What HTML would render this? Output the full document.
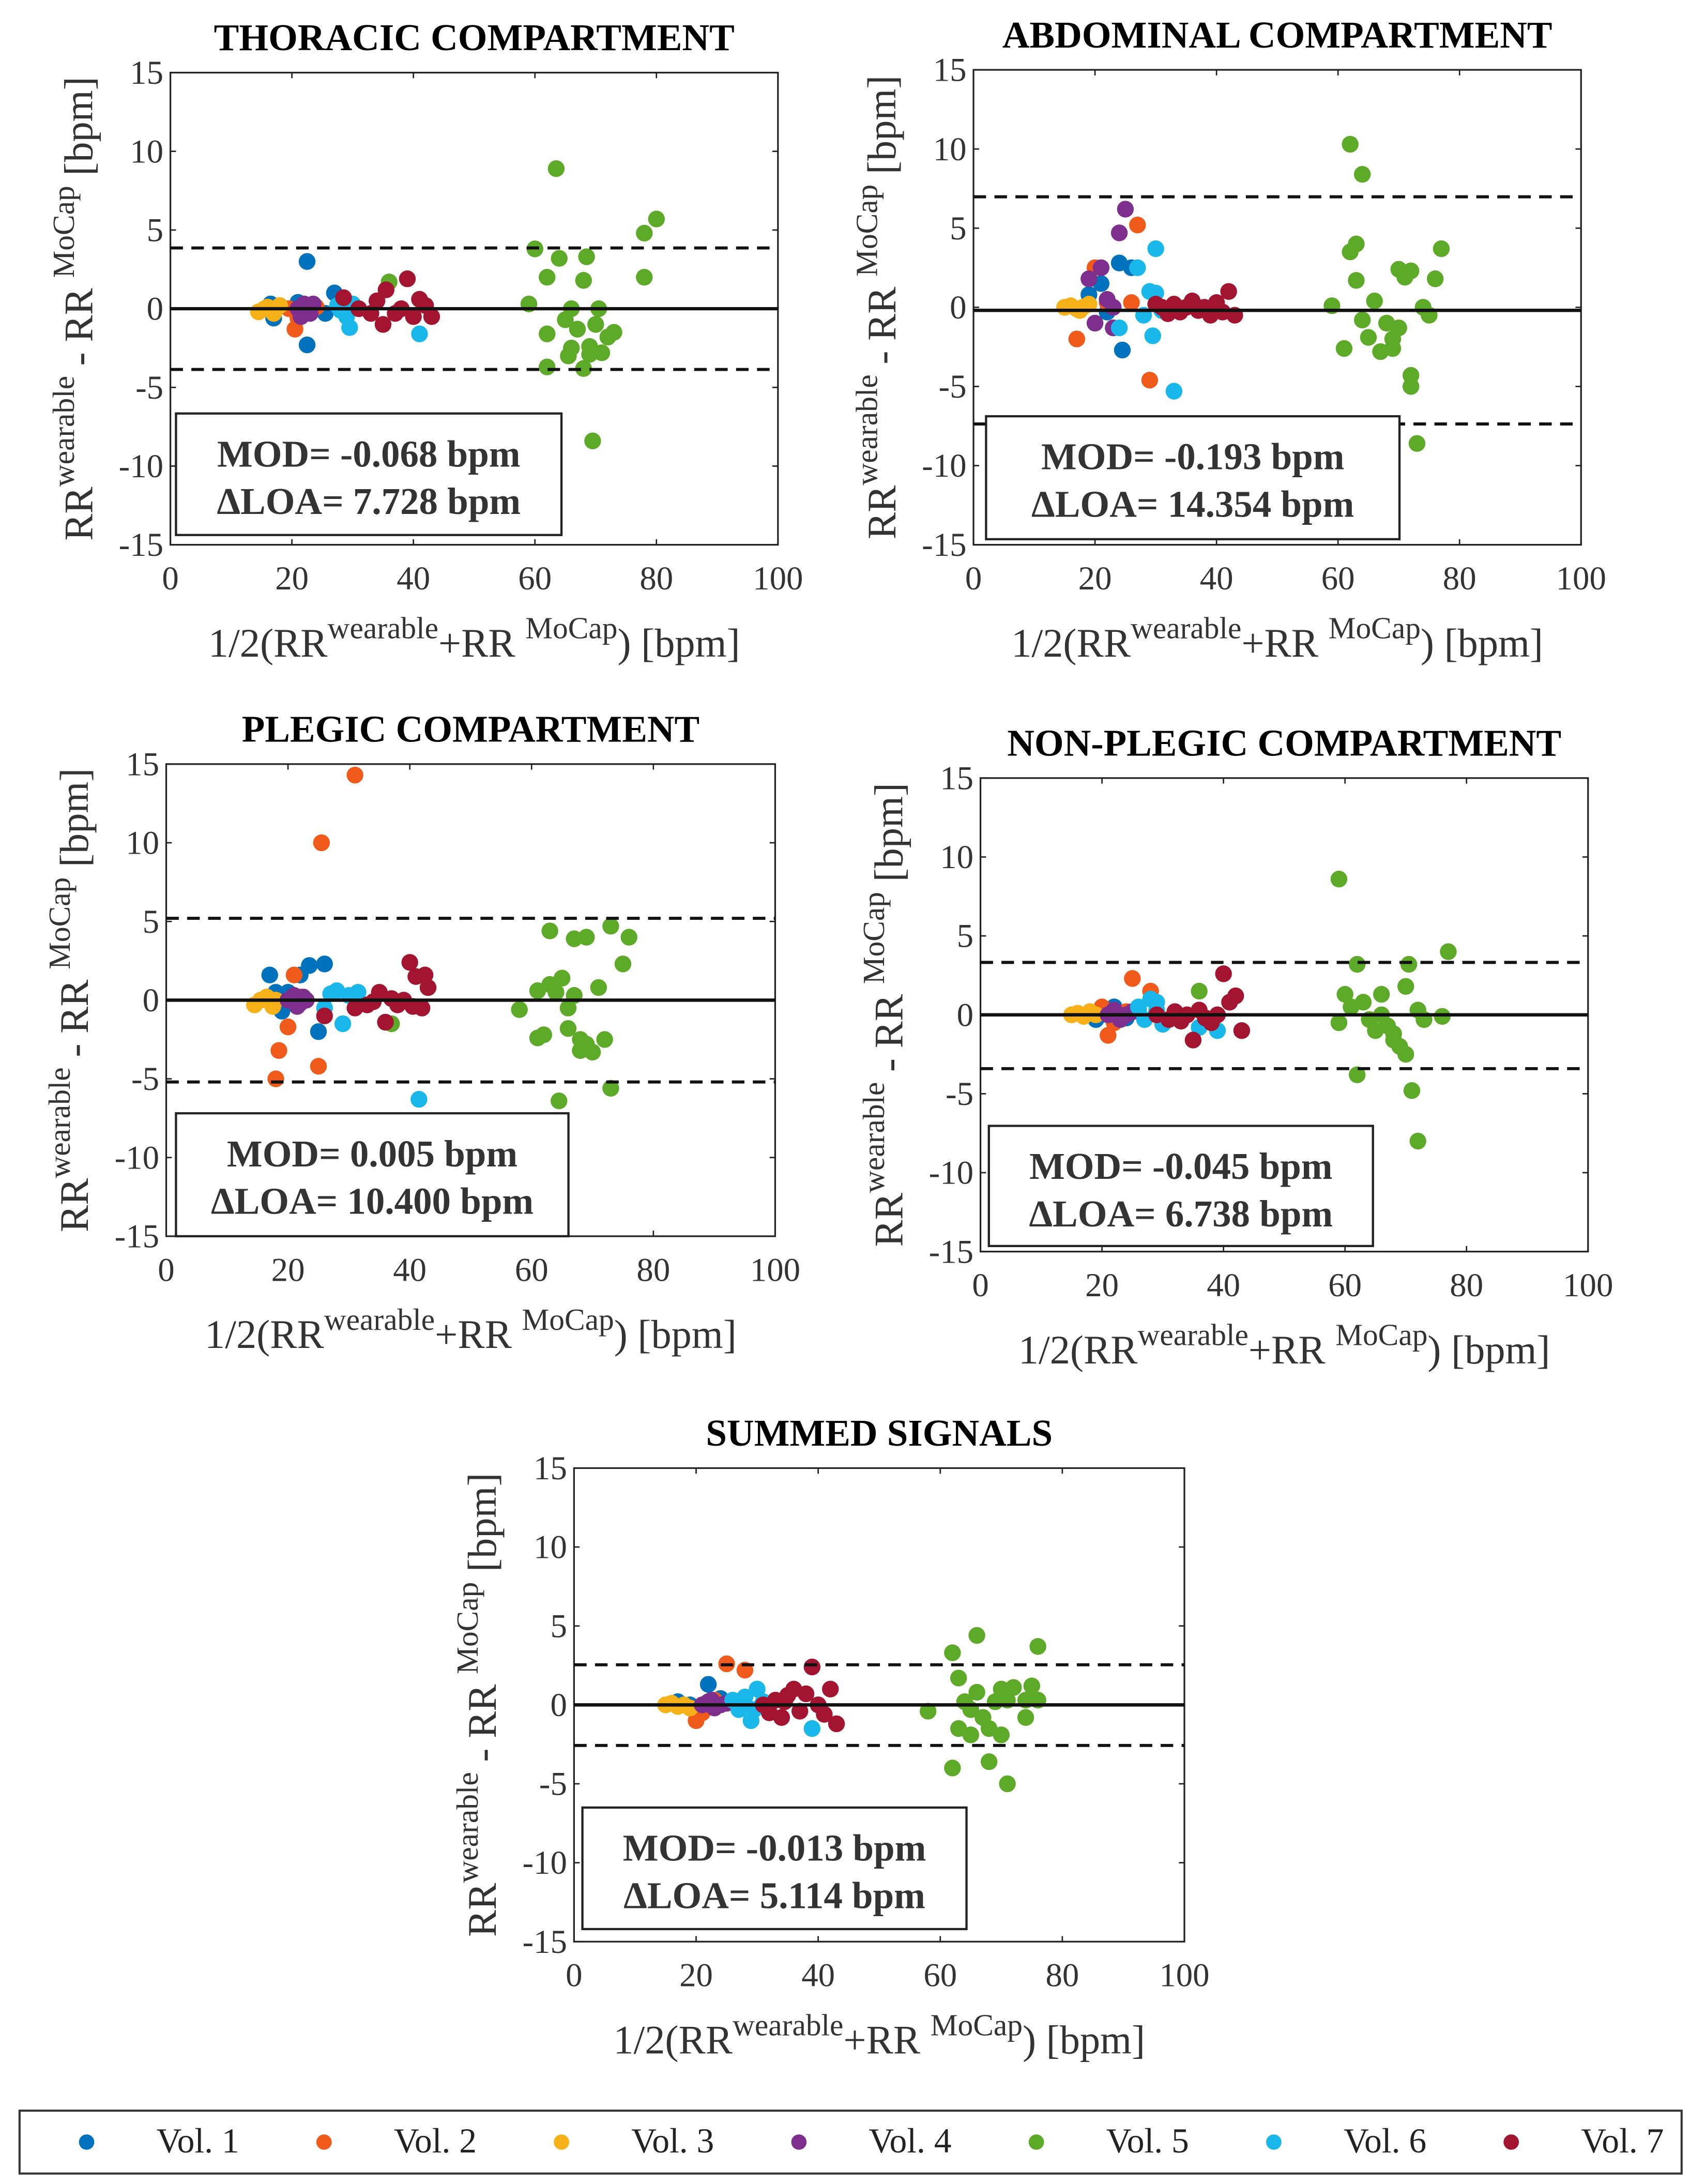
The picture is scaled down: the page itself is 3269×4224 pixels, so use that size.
<!DOCTYPE html>
<html><head><meta charset="utf-8">
<style>
html,body{margin:0;padding:0;background:#fff;}
svg{display:block;font-family:"Liberation Serif",serif;}
</style></head>
<body>
<svg id="fig" width="3269" height="4224" viewBox="0 0 1210 1563.5" xmlns="http://www.w3.org/2000/svg"></svg>
<script>
const colors=["#0072BD","#F05A1A","#F5B117","#7E2F8E","#5DAA28","#1AB8EA","#A2142F"];
const volNames=["Vol. 1","Vol. 2","Vol. 3","Vol. 4","Vol. 5","Vol. 6","Vol. 7"];
const xTicks=[0,20,40,60,80,100];
const yTicks=[15,10,5,0,-5,-10,-15];
const titles=["THORACIC COMPARTMENT","ABDOMINAL COMPARTMENT","PLEGIC COMPARTMENT","NON-PLEGIC COMPARTMENT","SUMMED SIGNALS"];
const mods=["MOD= -0.068 bpm","MOD= -0.193 bpm","MOD= 0.005 bpm","MOD= -0.045 bpm","MOD= -0.013 bpm"];
const loas=["\u0394LOA= 7.728 bpm","\u0394LOA= 14.354 bpm","\u0394LOA= 10.400 bpm","\u0394LOA= 6.738 bpm","\u0394LOA= 5.114 bpm"];
const upperLoa=[3.86,6.98,5.2,3.32,2.54];
const lowerLoa=[-3.86,-7.37,-5.2,-3.41,-2.57];
const zeroLine=[0,-0.193,0,0,0];
const thoracic=[
[[16.5,0.3],[17,-0.6],[22.5,3],[22.5,-2.3],[27,1],[25.5,-0.3],[21,0.4]],
[[20.5,-1.3],[24,0.1],[21,-0.6],[19.5,0]],
[[14.5,-0.2],[15.5,0],[16,0.1],[17,-0.3],[18,0.2],[16.5,0]],
[[21,0],[22,0.3],[23,-0.3],[22.5,0],[21.5,-0.5],[23.5,0.3]],
[[36,1.7],[59,0.3],[60,3.8],[62,2],[62,-1.6],[62,-3.7],[64,3.2],[65,-0.7],[66,0],[66,-2.5],[65.5,-3],[67,-1.3],[68,1.8],[68,-3.8],[68.5,3.3],[69,-2.9],[70,-1],[71,-2.8],[70.5,0],[72,-1.8],[73,-1.5],[69.5,-8.4],[63.5,8.9],[78,4.8],[78,2],[80,5.7],[69,-2.4]],
[[27.5,0.2],[29,-0.5],[29.5,-1.2],[30,0.3],[41,-1.6],[28,-0.1]],
[[28.5,0.7],[31,0],[33,-0.3],[34,0.5],[35,-1],[35.5,1.2],[37,-0.3],[38,0],[39,1.9],[40,-0.5],[41,0.6],[42,0.2],[43,-0.5]]];
const abdominal=[
[[19,0.8],[21,1.5],[24,2.8],[24.5,-2.7],[26,2.5],[22,-0.3]],
[[17,-2],[20,2.5],[27,5.2],[29,-4.6],[22,0.3],[26,0.3]],
[[15,0],[16,0.1],[17,-0.1],[18,0],[19,0.2],[17.5,-0.2]],
[[19,1.8],[20,-1],[21,2.5],[22,0.5],[23,-1.3],[24,4.7],[25,6.2],[26,-7.8],[26,-8.2],[23,0]],
[[59,0.1],[61,-2.6],[62,10.3],[62,3.5],[63,4],[63,1.7],[64,8.4],[64,-0.8],[65,-1.9],[66,0.4],[67,-2.8],[68,-1],[69,-2],[69,-2.6],[70,2.4],[70,-1.3],[71,1.9],[72,-4.3],[72,-5],[72,2.3],[73,-8.6],[74,0],[75,-0.5],[76,1.8],[77,3.7]],
[[27,2.5],[28,-0.5],[29,1],[29.5,-1.8],[30,3.7],[30,0.9],[33,-5.3],[24,-1.3],[31,-0.2]],
[[31,0],[32,-0.4],[33,0.2],[34,-0.3],[35,0],[36,0.4],[37,-0.2],[38,0],[39,-0.5],[40,0.3],[41,-0.3],[42,1],[43,-0.5],[30,0.2]]];
const plegic=[
[[17,1.6],[18,0.5],[19,-0.7],[22,1.6],[23.5,2.2],[25,-2],[26,2.3],[20,0.5]],
[[18,-5],[18.5,-3.2],[20,-1.7],[21,1.6],[25,-4.2],[25.5,10],[31,14.3],[22,0.2]],
[[14.5,-0.3],[15.5,0],[16.5,0.2],[17.5,-0.4],[18,0]],
[[20,0],[21,0.3],[22,-0.2],[23,0],[21.5,-0.4],[22.5,0.2]],
[[37,-1.5],[58,-0.6],[61,0.6],[61,-2.4],[62,-2.2],[63,4.4],[63,1],[64,0.5],[64.5,-6.4],[65,1.4],[66,-0.5],[66,-1.8],[67,3.9],[67,0.3],[68,-3.2],[68,-2.5],[69,-2.8],[69,4],[70,-3.3],[71,0.8],[72,-2.5],[73,4.7],[73,-5.6],[75,2.3],[76,4]],
[[27,0.4],[28,0.6],[29,-1.5],[30,0.3],[31.5,0.5],[41.5,-6.3],[26,-0.5]],
[[26,-1],[31,-0.5],[33,-0.3],[34,-0.1],[35,0.5],[36,-1.4],[37,0.1],[38,-0.3],[39,0],[40,2.4],[40.5,-0.4],[41,1.5],[42,-0.5],[43,0.8],[42.5,1.6]]];
const nonPlegic=[
[[18,0.1],[19,-0.3],[22,0.5],[24,-0.2],[26,0.4]],
[[20,0.5],[21,-1.3],[25,2.3],[22,-0.5],[24,0.2],[28,1.5]],
[[15,0],[16,0.1],[17,-0.1],[18,0.2],[19,0]],
[[21,0],[22,0.3],[23,-0.3],[24,0],[25,0.2]],
[[36,1.5],[59,8.6],[59,-0.5],[61,0.5],[60,1.3],[62,3.2],[62,-3.8],[63,0.8],[64,-0.3],[65,-1],[66,1.3],[66,0],[67,-0.7],[68,-1.6],[69,-2],[70,1.8],[70,-2.5],[70.5,3.2],[71,-4.8],[72,-8],[72,0.3],[73,-0.3],[77,4],[76,-0.1],[68,-1.2]],
[[26,0.5],[27,-0.3],[28,1],[29,0.8],[30,-0.6],[29,0.3],[36,-0.8],[39,-1]],
[[29,0],[31,-0.3],[32,0.2],[33,-0.4],[34,0],[35,-1.6],[36,0.3],[37,-0.2],[38,-0.5],[39,0],[40,2.6],[41,0.8],[42,1.2],[43,-1]]];
const summed=[
[[17,0.2],[19,0],[22,1.3],[24,0.4],[20,-0.3]],
[[20,-1],[21,-0.5],[25,2.6],[28,2.2],[23,0.3]],
[[15,0],[16,0.1],[17,-0.1],[18,0],[19,-0.2]],
[[21,0],[22,0.2],[23,-0.2],[24,0],[25,0.1],[22.5,0.3]],
[[58,-0.4],[62,-4],[62,3.3],[63,-1.5],[63,1.7],[64,0.2],[65,-1.9],[65,-0.3],[66,4.4],[66,0.8],[67,-0.8],[68,-1.5],[68,-3.6],[69,0.2],[70,1],[70,-1.9],[71,-5],[71,0.3],[72,1.1],[74,0.3],[74,-0.8],[75,1.2],[76,3.7],[76,0.3]],
[[26,0.3],[27,-0.3],[28,0.5],[29,-1],[30,1],[31,0.2],[39,-1.5],[29.5,-0.3]],
[[31,0],[32,-0.5],[33,0.3],[34,-0.8],[35,0.6],[36,1],[37,-0.4],[38,0.7],[39,2.4],[40,0],[41,-0.6],[42,1],[43,-1.2],[34.5,0.2]]];
const datasets=[thoracic,abdominal,plegic,nonPlegic,summed];
const plotNames=["thoracic","abdominal","plegic","non-plegic","summed"];
const layouts=[
 {x0:122,x1:557,y0:52,y1:390,box:[126,296,276,87]},
 {x0:697,x1:1132,y0:50,y1:390,box:[706,298,296,88]},
 {x0:119,x1:555,y0:547,y1:885,box:[126,797,281,88]},
 {x0:702,x1:1137,y0:557,y1:896,box:[708,806,275,86]},
 {x0:411,x1:848,y0:1051,y1:1390,box:[417,1294,275,87]}];
const NS="http://www.w3.org/2000/svg";
const svg=document.getElementById('fig');
function mk(tag,attrs,parent){const e=document.createElementNS(NS,tag);for(const k in attrs)e.setAttribute(k,attrs[k]);(parent||svg).appendChild(e);return e;}
datasets.forEach((data,i)=>{
 const L=layouts[i];
 const sx=v=>L.x0+(v-0)/100*(L.x1-L.x0);
 const sy=v=>L.y0+(15-v)/30*(L.y1-L.y0);
 const g=mk('g',{});
 
 
 const t=mk('text',{x:(L.x0+L.x1)/2,y:L.y0-16,'text-anchor':'middle','font-size':27,'font-weight':'bold'},g);
 t.textContent=titles[i];
 
 
 const fr=mk('rect',{x:L.x0,y:L.y0,width:L.x1-L.x0,height:L.y1-L.y0,fill:'none',stroke:'#222','stroke-width':1.2},g);
 
 
 xTicks.forEach(v=>{
  mk('line',{x1:sx(v),x2:sx(v),y1:L.y1,y2:L.y1-4,stroke:'#222','stroke-width':1},g);
  mk('line',{x1:sx(v),x2:sx(v),y1:L.y0,y2:L.y0+4,stroke:'#222','stroke-width':1},g);
  const tt=mk('text',{x:sx(v),y:L.y1+32,'text-anchor':'middle','font-size':24,fill:'#333'},g);
  tt.textContent=v;
  
  
 });
 yTicks.forEach(v=>{
  mk('line',{x1:L.x0,x2:L.x0+4,y1:sy(v),y2:sy(v),stroke:'#222','stroke-width':1},g);
  mk('line',{x1:L.x1,x2:L.x1-4,y1:sy(v),y2:sy(v),stroke:'#222','stroke-width':1},g);
  const tt=mk('text',{x:L.x0-5,y:sy(v)+8,'text-anchor':'end','font-size':24,fill:'#333'},g);
  tt.textContent=v;
  
  
 });
 data.forEach((pts,vi)=>{
  pts.forEach(p=>{
   const c=mk('circle',{cx:sx(p[0]),cy:sy(p[1]),r:6,fill:colors[vi]},g);
   
   
  });
 });
 const z=mk('line',{x1:L.x0,x2:L.x1,y1:sy(zeroLine[i]),y2:sy(zeroLine[i]),stroke:'#111','stroke-width':2.4},g);
 
 
 [upperLoa[i],lowerLoa[i]].forEach(v=>{
  const d=mk('line',{x1:L.x0,x2:L.x1,y1:sy(v),y2:sy(v),stroke:'#111','stroke-width':2.2,'stroke-dasharray':'9,6'},g);
  
  
 });
 const b=L.box;
 const br=mk('rect',{x:b[0],y:b[1],width:b[2],height:b[3],fill:'#fff',stroke:'#222','stroke-width':1.6},g);
 
 
 const m=mk('text',{x:b[0]+b[2]/2,y:b[1]+38,'text-anchor':'middle','font-size':27,'font-weight':'bold',fill:'#333'},g);
 m.textContent=mods[i];
 
 
 const l=mk('text',{x:b[0]+b[2]/2,y:b[1]+72,'text-anchor':'middle','font-size':27,'font-weight':'bold',fill:'#333'},g);
 l.textContent=loas[i];
 
 
 const yl=mk('text',{transform:`translate(${L.x0-56},${(L.y0+L.y1)/2}) rotate(-90)`,'text-anchor':'middle','font-size':29,fill:'#333'},g);
 yl.innerHTML='RR<tspan font-size="22" dy="-13">wearable</tspan><tspan dy="13"> - RR </tspan><tspan font-size="22" dy="-13">MoCap</tspan><tspan dy="13"> [bpm]</tspan>';
 
 
 const xl=mk('text',{x:(L.x0+L.x1)/2,y:L.y1+80,'text-anchor':'middle','font-size':29,fill:'#333'},g);
 xl.innerHTML='1/2(RR<tspan font-size="22" dy="-13">wearable</tspan><tspan dy="13">+RR </tspan><tspan font-size="22" dy="-13">MoCap</tspan><tspan dy="13">) [bpm]</tspan>';
 
 
});
const lg=mk('g',{});


mk('rect',{x:14,y:1511,width:1190,height:45,fill:'#fff',stroke:'#333','stroke-width':1.5},lg);
volNames.forEach((n,i)=>{
 const cx=62+i*170;
 const c=mk('circle',{cx:cx,cy:1533.5,r:5.5,fill:colors[i]},lg);
 
 
 const t=mk('text',{x:cx+50,y:1541,'font-size':25,fill:'#222'},lg);
 t.textContent=n;
 
 
});
</script>
</body></html>
